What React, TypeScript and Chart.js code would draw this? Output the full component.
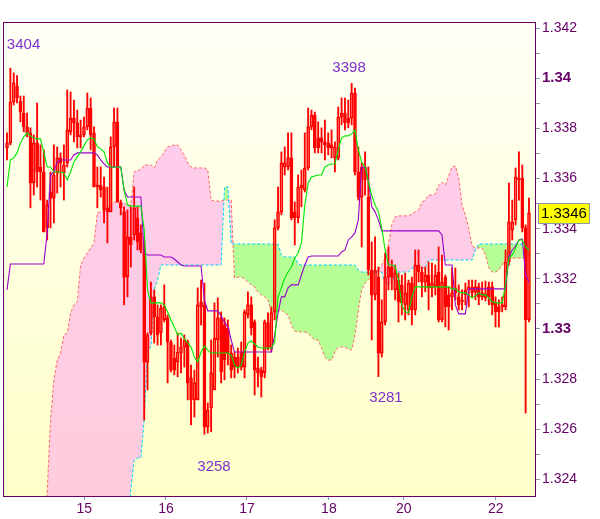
import React, { useEffect, useRef } from 'react';
import { Chart, registerables } from 'chart.js';
Chart.register(...registerables);

// ---------- DATA (hourly candles, bar index 0..156) ----------
const opens = [1.33722,1.33742,1.33905,1.33969,1.33909,1.33861,1.33806,1.33782,1.33582,1.33742,
1.33646,1.33626,1.33403,1.33546,1.33522,1.33622,1.33682,1.33622,1.33662,1.33786,
1.33841,1.33822,1.33774,1.33774,1.33806,1.33881,1.33782,1.33574,1.33574,1.33566,
1.33483,1.33467,1.33726,1.33826,1.33502,1.33467,1.33207,1.33367,1.33375,1.33443,
1.33383,1.33315,1.32868,1.32984,1.33128,1.33048,1.32984,1.33036,1.33044,1.32948,
1.32884,1.32868,1.32904,1.32928,1.32948,1.32805,1.32717,1.32717,1.33108,1.33096,
1.32609,1.32685,1.32757,1.32956,1.33044,1.33016,1.33004,1.32904,1.32888,1.32888,
1.32908,1.32848,1.33056,1.33096,1.33028,1.32844,1.32836,1.32825,1.33024,1.32924,
1.33068,1.33403,1.33467,1.33646,1.33646,1.33682,1.33467,1.33443,1.33562,1.33554,
1.33642,1.33806,1.33853,1.33762,1.33762,1.33746,1.33742,1.33734,1.33682,1.33682,
1.33845,1.33861,1.33841,1.33841,1.33941,1.33626,1.33526,1.33646,1.33526,1.33235,
1.33136,1.33207,1.32904,1.33028,1.33207,1.33247,1.33156,1.33195,1.33176,1.33096,
1.33076,1.33183,1.33076,1.33255,1.33227,1.33187,1.33215,1.33164,1.33168,1.33227,
1.33036,1.33207,1.33136,1.33128,1.33164,1.33128,1.33116,1.33156,1.33168,1.33168,
1.33148,1.33168,1.33128,1.33124,1.33168,1.33168,1.33104,1.33088,1.33088,1.33088,
1.33267,1.33395,1.33435,1.33594,1.33602,1.33403,1.33036];

const highs = [1.33782,1.3404,1.34021,1.3401,1.33929,1.33929,1.33861,1.33802,1.33774,1.33901,
1.33734,1.33714,1.33514,1.33626,1.33734,1.33726,1.33702,1.33734,1.33953,1.33945,
1.33913,1.33873,1.33833,1.33845,1.33941,1.33921,1.33806,1.33646,1.33646,1.33606,
1.33566,1.33766,1.33881,1.33881,1.33514,1.33487,1.33475,1.33487,1.33566,1.33487,
1.33415,1.33355,1.32984,1.33187,1.33156,1.33096,1.33096,1.33176,1.33056,1.32956,
1.32936,1.32984,1.32964,1.32976,1.32956,1.32856,1.32836,1.33164,1.33195,1.33183,
1.32705,1.32956,1.33104,1.33124,1.33068,1.33044,1.33036,1.32936,1.32908,1.32924,
1.32948,1.33076,1.33148,1.33128,1.33036,1.32888,1.32848,1.33036,1.33064,1.33088,
1.33435,1.33566,1.33706,1.33726,1.33782,1.33782,1.33506,1.33614,1.33634,1.33782,
1.33881,1.33873,1.33865,1.33826,1.33802,1.33833,1.33782,1.33794,1.33746,1.33885,
1.33921,1.33921,1.33913,1.3398,1.33961,1.33726,1.33662,1.33706,1.33646,1.33347,
1.33367,1.33247,1.33116,1.33303,1.33327,1.33275,1.33255,1.33223,1.33215,1.33223,
1.33195,1.33207,1.33315,1.33315,1.33247,1.33247,1.33267,1.33263,1.33255,1.33327,
1.33295,1.33215,1.33168,1.33243,1.33243,1.33176,1.33156,1.33183,1.33195,1.33195,
1.33195,1.33183,1.33187,1.33191,1.33187,1.33187,1.33128,1.33116,1.33128,1.33315,
1.33582,1.33514,1.33642,1.33706,1.33654,1.33415,1.33522];

const lows = [1.33674,1.33734,1.33893,1.33901,1.33826,1.33786,1.33766,1.33483,1.33534,1.33566,
1.33514,1.33387,1.33355,1.33403,1.33423,1.33542,1.33566,1.33514,1.33646,1.33774,
1.33746,1.33722,1.33722,1.33766,1.33794,1.33714,1.33566,1.33483,1.33526,1.33423,
1.33343,1.33467,1.33646,1.33506,1.33455,1.33096,1.33128,1.33247,1.33355,1.33315,
1.33303,1.32637,1.32757,1.32976,1.32944,1.32936,1.32936,1.33028,1.32785,1.32829,
1.32817,1.32809,1.32825,1.32848,1.32717,1.32617,1.32649,1.32717,1.33016,1.3258,
1.32585,1.3259,1.32757,1.32888,1.32785,1.32797,1.32856,1.32805,1.32805,1.32825,
1.32836,1.32805,1.33044,1.32976,1.32737,1.32769,1.32729,1.32805,1.32916,1.32908,
1.33036,1.33395,1.33455,1.33614,1.33634,1.33435,1.33335,1.33423,1.33487,1.33546,
1.33634,1.33794,1.33702,1.33702,1.33702,1.33674,1.33694,1.33682,1.33626,1.33674,
1.33814,1.33794,1.33802,1.33814,1.33614,1.33514,1.33327,1.33534,1.33215,1.32956,
1.33116,1.3281,1.32888,1.33016,1.33156,1.33156,1.33116,1.33028,1.33056,1.33036,
1.33056,1.33016,1.33056,1.33187,1.33128,1.33148,1.33076,1.33128,1.33136,1.33028,
1.33028,1.33008,1.32996,1.33076,1.33116,1.33076,1.33076,1.33096,1.33088,1.33128,
1.33116,1.33096,1.33116,1.33112,1.33096,1.33056,1.33008,1.33008,1.33068,1.33076,
1.33255,1.33355,1.33415,1.33514,1.33387,1.32665,1.33028];

const closes = [1.33742,1.33905,1.33981,1.33921,1.33865,1.33806,1.33782,1.33582,1.33742,1.33626,
1.33626,1.33387,1.33494,1.33522,1.33614,1.33682,1.33662,1.33654,1.33794,1.33841,
1.33822,1.33766,1.33766,1.33806,1.33881,1.33774,1.33566,1.33566,1.33554,1.33475,
1.33467,1.33726,1.33826,1.33506,1.33483,1.33207,1.33367,1.33335,1.33483,1.33347,
1.33315,1.32868,1.32976,1.33128,1.33048,1.32976,1.33084,1.33088,1.32948,1.32836,
1.32836,1.32908,1.32928,1.32956,1.32785,1.32717,1.32785,1.33096,1.33088,1.32609,
1.32677,1.32825,1.32964,1.33044,1.32829,1.32876,1.32904,1.32836,1.32848,1.32848,
1.32848,1.33068,1.33096,1.33004,1.32836,1.32825,1.32809,1.33028,1.32924,1.33064,
1.33403,1.33467,1.33662,1.33662,1.33682,1.33443,1.33443,1.33566,1.33574,1.33642,
1.33806,1.33853,1.33722,1.33722,1.33746,1.33734,1.33722,1.33722,1.33726,1.33845,
1.33861,1.33822,1.33822,1.33941,1.33626,1.33526,1.33646,1.33594,1.33235,1.33136,
1.33235,1.32904,1.33028,1.33207,1.33247,1.33207,1.33223,1.33108,1.33104,1.33144,
1.33183,1.33076,1.33255,1.33227,1.33187,1.33215,1.33164,1.33183,1.33215,1.33036,
1.33187,1.33088,1.33088,1.33144,1.33144,1.33096,1.33108,1.33136,1.33156,1.33144,
1.33168,1.33128,1.33144,1.3314,1.33128,1.33096,1.33068,1.33068,1.33096,1.33267,
1.33427,1.33427,1.33606,1.33602,1.33403,1.33036,1.33463];

const tenkan = [1.33566,1.33674,1.33682,1.33702,1.33742,1.33766,1.33782,1.3377,1.33762,1.33758,
1.33758,1.33706,1.33646,1.33646,1.33626,1.33626,1.33626,1.33622,1.33594,1.33626,
1.33666,1.33686,1.33706,1.3373,1.33754,1.33762,1.33758,1.33726,1.33718,1.33706,
1.33662,1.33646,1.33646,1.33646,1.33646,1.33554,1.33494,1.3349,1.3349,1.3349,
1.3349,1.33395,1.33156,1.33104,1.33104,1.33104,1.33104,1.33096,1.33068,1.33036,
1.33008,1.32976,1.32984,1.3296,1.32944,1.32928,1.32888,1.32868,1.32908,1.32932,
1.32916,1.32904,1.32904,1.32904,1.32904,1.32904,1.32904,1.32896,1.32856,1.32844,
1.32856,1.32908,1.32944,1.32952,1.3294,1.32928,1.32924,1.32924,1.32924,1.32924,
1.32948,1.33128,1.33164,1.33203,1.33227,1.33247,1.33283,1.33303,1.33343,1.33494,
1.33582,1.33606,1.3361,1.33614,1.33614,1.33646,1.33654,1.33658,1.33658,1.33714,
1.33762,1.3377,1.3377,1.33778,1.33794,1.33714,1.33666,1.33646,1.33586,1.33534,
1.33494,1.33467,1.33403,1.33315,1.33255,1.33255,1.33251,1.33195,1.33096,1.33068,
1.33064,1.33128,1.33168,1.33168,1.33168,1.33168,1.33168,1.33168,1.33168,1.33168,
1.33168,1.33168,1.33168,1.3316,1.3316,1.33148,1.33144,1.33144,1.33136,1.33124,
1.33132,1.33144,1.33136,1.33136,1.33124,1.33108,1.33104,1.33104,1.33104,1.33176,
1.33283,1.33295,1.33323,1.33355,1.33355,1.33327,1.33315];

const kijun = [1.33156,1.33259,1.33259,1.33259,1.33259,1.33259,1.33259,1.33259,1.33259,1.33259,
1.33259,1.33259,1.33383,1.33614,1.33626,1.33666,1.33674,1.33674,1.33674,1.33674,
1.33694,1.33702,1.33702,1.33702,1.33702,1.33702,1.33702,1.33694,1.33674,1.33658,
1.33646,1.33646,1.33646,1.33646,1.33646,1.33554,1.33526,1.33526,1.33526,1.33526,
1.33526,1.33303,1.33295,1.33295,1.33295,1.33295,1.33295,1.33287,1.33287,1.33287,
1.33279,1.33267,1.33255,1.33251,1.33251,1.33251,1.33251,1.33251,1.33251,1.33116,
1.33072,1.33072,1.33072,1.33072,1.33052,1.33028,1.33008,1.32956,1.32908,1.32908,
1.32908,1.32908,1.32908,1.32908,1.32908,1.32908,1.32908,1.32908,1.32908,1.32908,
1.32976,1.33064,1.33128,1.33128,1.33164,1.33176,1.33176,1.33176,1.33215,1.33255,
1.33287,1.33291,1.33291,1.33291,1.33291,1.33291,1.33291,1.33291,1.33291,1.33291,
1.33307,1.33315,1.33355,1.33367,1.33383,1.33435,1.33646,1.33646,1.33594,1.33487,
1.33467,1.33435,1.33391,1.33391,1.33391,1.33391,1.33391,1.33391,1.33391,1.33391,
1.33391,1.33391,1.33391,1.33391,1.33391,1.33391,1.33391,1.33391,1.33391,1.33391,
1.33375,1.33255,1.33255,1.33255,1.33096,1.3306,1.3306,1.3306,1.3316,1.3316,
1.3316,1.3316,1.3316,1.3316,1.3316,1.3316,1.3316,1.3316,1.3316,1.3316,
1.33287,1.33315,1.33331,1.33355,1.33359,1.33215,1.33187];

const spanA = [1.319,1.319,1.319,1.319,1.319,1.319,1.319,1.319,1.319,1.319,
1.319,1.319,1.319,1.319,1.319,1.319,1.319,1.319,1.319,1.319,
1.319,1.319,1.319,1.319,1.319,1.319,1.319,1.319,1.319,1.319,
1.319,1.319,1.319,1.319,1.319,1.319,1.322,1.32358,1.32478,1.32486,
1.32486,1.32637,1.32916,1.32928,1.33156,1.33195,1.33255,1.33255,1.33255,1.33255,
1.33255,1.33255,1.33255,1.33255,1.33255,1.33255,1.33255,1.33255,1.33255,1.33255,
1.33255,1.33255,1.33255,1.33255,1.33255,1.33566,1.33566,1.33339,1.33339,1.33339,
1.33339,1.33339,1.33339,1.33339,1.33339,1.33339,1.33339,1.33339,1.33339,1.33339,
1.33339,1.33339,1.33295,1.33287,1.33287,1.33287,1.33287,1.33259,1.33255,1.33255,
1.33255,1.33255,1.33255,1.33255,1.33255,1.33255,1.33255,1.33255,1.33255,1.33255,
1.33255,1.33255,1.33255,1.33255,1.33255,1.33235,1.33227,1.33227,1.33227,1.33227,
1.33227,1.33227,1.33227,1.3318,1.3318,1.3318,1.33227,1.33227,1.33227,1.33227,
1.33227,1.33243,1.33243,1.33243,1.33243,1.33243,1.33275,1.33275,1.33275,1.33275,
1.33275,1.33275,1.33275,1.33275,1.33275,1.33275,1.33275,1.33275,1.33275,1.33275,
1.33315,1.33339,1.33339,1.33339,1.33339,1.33339,1.33339,1.33339,1.33339,1.33339,
1.33339,1.33339,1.33339,1.33339,1.33339,1.33339,1.33339];

const spanB = [1.32,1.3201,1.3202,1.3203,1.3204,1.3206,1.3208,1.321,1.3212,1.3215,
1.3218,1.3222,1.32346,1.32637,1.32797,1.32876,1.32904,1.32976,1.32984,1.33064,
1.33096,1.33108,1.33255,1.33283,1.33303,1.33323,1.33343,1.33463,1.33467,1.33471,
1.33483,1.33494,1.33506,1.33506,1.33506,1.33502,1.33494,1.33494,1.33626,1.33634,
1.33634,1.33654,1.33654,1.33654,1.33642,1.33674,1.33686,1.33706,1.33726,1.3373,
1.33734,1.33734,1.33714,1.33694,1.33662,1.33646,1.33642,1.33642,1.33642,1.33642,
1.33634,1.33514,1.3351,1.3351,1.3351,1.33514,1.33514,1.33514,1.33203,1.33207,
1.33207,1.33199,1.33187,1.33176,1.33168,1.33148,1.33136,1.33128,1.33116,1.33064,
1.33064,1.33068,1.33076,1.33064,1.33056,1.33016,1.32992,1.32988,1.32988,1.32988,
1.32984,1.32968,1.32956,1.32956,1.32924,1.32888,1.32876,1.32876,1.32908,1.32928,
1.32928,1.32928,1.3292,1.32916,1.32976,1.33076,1.33156,1.33183,1.33195,1.33211,
1.33227,1.33235,1.33255,1.33283,1.33335,1.33415,1.33447,1.33451,1.33451,1.33451,
1.33451,1.33459,1.33467,1.33475,1.33506,1.33514,1.33534,1.33534,1.33538,1.33574,
1.33586,1.33574,1.3361,1.33646,1.3365,1.33602,1.33494,1.33455,1.33403,1.33331,
1.33323,1.33323,1.33323,1.33295,1.33243,1.33227,1.33227,1.33235,1.33255,1.33283,
1.33283,1.33283,1.33283,1.33283,1.33283,1.33283,1.33283];

// x tick positions (bar index where each day label sits) and labels
const xTickBars = [23.1, 47.5, 71.7, 96.2, 118.6, 146.1];
const xTickLabels = ['15', '16', '17', '18', '20', '22'];
// y ticks every 0.001; labels shown on even thousandths
const yTickValues = [1.324,1.325,1.326,1.327,1.328,1.329,1.33,1.331,1.332,1.333,1.334,1.335,1.336,1.337,1.338,1.339,1.34,1.341,1.342];

// extreme price labels
const extremeTexts = ['3404', '3398', '3281', '3258'];
const extremeBars = [1, 103, 111, 59];
const extremePrices = [1.3404, 1.3398, 1.3281, 1.3258];

// ---------- STYLE ----------
const FONT = '"Liberation Sans", Arial, Helvetica, sans-serif';
const X_MIN = -0.9, X_MAX = 157.8;
const Y_MIN = 1.32334, Y_MAX = 1.3422;
const RED = '#ff0000';
const AXIS_TEXT = '#660066';
const TICK_COLOR = '#8a9aab';
// label placement relative to its candle extreme (px)
const extremeStyle = [
  { dx: -3.5, dy: -23, align: 'left' },
  { dx: -2.6, dy: -15, align: 'center' },
  { dx: 7.6, dy: 21, align: 'center' },
  { dx: 9.6, dy: 33, align: 'center' },
];

const pts = (arr: number[]) => arr.map((v, i) => ({ x: i, y: v }));

const decorPlugin = {
  id: 'decor',
  beforeDraw(chart: any) {
    const { ctx, chartArea: a, width, height } = chart;
    ctx.save();
    ctx.fillStyle = '#ffffff';
    ctx.fillRect(0, 0, width, height);
    const g = ctx.createLinearGradient(0, a.top, 0, a.bottom);
    g.addColorStop(0, '#fffff6');
    g.addColorStop(1, '#ffffc8');
    ctx.fillStyle = g;
    ctx.fillRect(a.left, a.top, a.right - a.left, a.bottom - a.top);
    ctx.restore();
  },
  afterDraw(chart: any) {
    const { ctx, chartArea: a, scales } = chart;
    ctx.save();
    ctx.strokeStyle = '#660066';
    ctx.lineWidth = 1;
    ctx.strokeRect(a.left - 0.5, a.top - 0.5, a.right - a.left + 1, a.bottom - a.top + 1);

    ctx.font = '15px ' + FONT;
    ctx.fillStyle = '#7f33cc';
    ctx.textBaseline = 'middle';
    extremeTexts.forEach((t, k) => {
      const st = extremeStyle[k];
      const x = scales.x.getPixelForValue(extremeBars[k]) + st.dx;
      const y = scales.y.getPixelForValue(extremePrices[k]) + st.dy;
      ctx.textAlign = st.align;
      ctx.fillText(t, x, y);
    });

    const last = closes[closes.length - 1];
    const ly = Math.round(scales.y.getPixelForValue(last));
    const txt = last.toFixed(4);
    ctx.font = '15px ' + FONT;
    const w = Math.round(ctx.measureText(txt).width) + 6;
    const bh = 21;
    const bx = Math.round(a.right) + 3;
    ctx.fillStyle = '#ffff00';
    ctx.fillRect(bx, ly - 10, w, bh);
    ctx.strokeStyle = '#8a9aab';
    ctx.strokeRect(bx + 0.5, ly - 10 + 0.5, w - 1, bh - 1);
    ctx.fillStyle = '#000000';
    ctx.textAlign = 'left';
    ctx.fillText(txt, bx + 3, ly + 1);
    ctx.restore();
  },
};

export default function App() {
  const ref = useRef<HTMLCanvasElement>(null);
  useEffect(() => {
    document.body.style.margin = '0';
    const bodies = closes.map((c, i) => ({ x: i, y: [opens[i], c] }));
    const upWicks = closes.map((c, i) => ({ x: i, y: [Math.max(opens[i], c), highs[i]] }));
    const lowWicks = closes.map((c, i) => ({ x: i, y: [lows[i], Math.min(opens[i], c)] }));
    const bodyFill = closes.map((c, i) => (c < opens[i] ? RED : 'rgba(0,0,0,0)'));

    const chart = new Chart(ref.current as HTMLCanvasElement, {
      type: 'bar',
      data: {
        datasets: [
          { type: 'line', label: 'tenkan', data: pts(tenkan), borderColor: '#00e600', borderWidth: 1.1, pointRadius: 0, fill: false, order: 0 } as any,
          { type: 'line', label: 'kijun', data: pts(kijun), borderColor: '#9900cc', borderWidth: 1.1, pointRadius: 0, fill: false, order: 0 } as any,
          { type: 'bar', label: 'body', data: bodies, backgroundColor: bodyFill, borderColor: RED, borderWidth: 1, borderSkipped: false, barThickness: 3, grouped: false, order: 1 } as any,
          { type: 'bar', label: 'upwick', data: upWicks, backgroundColor: RED, borderWidth: 0, barThickness: 1.2, grouped: false, order: 1 } as any,
          { type: 'bar', label: 'lowwick', data: lowWicks, backgroundColor: RED, borderWidth: 0, barThickness: 1.2, grouped: false, order: 1 } as any,
          { type: 'line', label: 'spanA', data: pts(spanA), borderColor: '#00d0ff', borderWidth: 1, borderDash: [3, 2], pointRadius: 0, fill: false, order: 2 } as any,
          { type: 'line', label: 'spanB', data: pts(spanB), borderColor: '#ff6a6a', borderWidth: 1, borderDash: [3, 2], pointRadius: 0,
            fill: { target: 5, above: 'rgba(255,170,235,0.6)', below: 'rgba(150,255,120,0.7)' }, order: 2 } as any,
        ],
      },
      options: {
        responsive: false,
        animation: false,
        events: [],
        layout: { padding: { left: 4, top: 23, right: 0, bottom: 0 } },
        plugins: {
          legend: { display: false },
          tooltip: { enabled: false },
          filler: { propagate: false, drawTime: 'beforeDatasetsDraw' } as any,
        },
        scales: {
          x: {
            type: 'linear',
            min: X_MIN,
            max: X_MAX,
            offset: false,
            bounds: 'data',
            grid: { drawOnChartArea: false, drawTicks: true, tickLength: 4, color: TICK_COLOR, offset: false },
            border: { display: false },
            afterBuildTicks: (s: any) => { s.ticks = xTickBars.map((v) => ({ value: v })); },
            afterFit: (s: any) => { s.height = 23; },
            ticks: {
              autoSkip: false,
              maxRotation: 0,
              padding: 1,
              color: AXIS_TEXT,
              font: { family: FONT, size: 14 },
              callback: (_v: any, i: number) => xTickLabels[i],
            },
          } as any,
          y: {
            type: 'linear',
            position: 'right',
            min: Y_MIN,
            max: Y_MAX,
            bounds: 'data',
            grid: { drawOnChartArea: false, drawTicks: true, tickLength: 5, color: TICK_COLOR },
            border: { display: false },
            afterBuildTicks: (s: any) => { s.ticks = yTickValues.map((v) => ({ value: v })); },
            afterFit: (s: any) => { s.width = 65; },
            ticks: {
              autoSkip: false,
              padding: 2,
              color: AXIS_TEXT,
              font: (ctx: any) => {
                const k = Math.round((ctx.tick ? ctx.tick.value : 0) * 1000);
                return k % 10 === 0 ? { family: FONT, size: 15, weight: 'bold' } : { family: FONT, size: 14 };
              },
              callback: (v: any) => {
                const k = Math.round(Number(v) * 1000);
                return k % 2 === 0 ? String(k / 1000) : '';
              },
            },
          } as any,
        },
      },
      plugins: [decorPlugin],
    } as any);
    return () => chart.destroy();
  }, []);
  return (
    <div style={{ width: 600, height: 519, background: '#ffffff' }}>
      <canvas ref={ref} width={600} height={519} style={{ display: 'block' }} />
    </div>
  );
}
